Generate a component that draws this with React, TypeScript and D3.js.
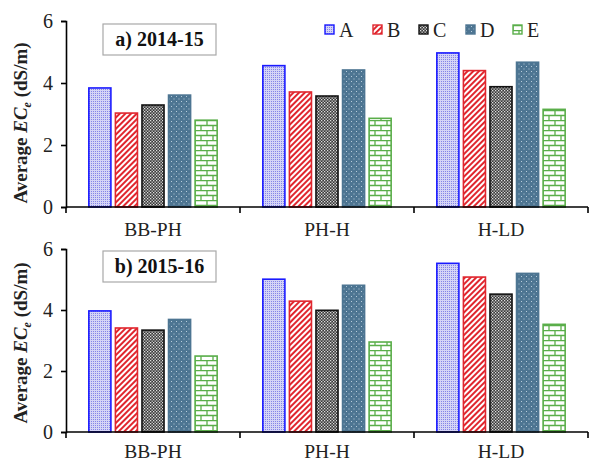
import { useEffect, useRef } from 'react'
import * as d3 from 'd3'

const categories = ['BB-PH', 'PH-H', 'H-LD']
const series = ['A', 'B', 'C', 'D', 'E']
const yTicks = [0, 2, 4, 6]

// values per category, in series order A..E
const values1415 = [
  [3.84, 3.03, 3.29, 3.61, 2.8],
  [4.56, 3.71, 3.58, 4.42, 2.86],
  [4.97, 4.4, 3.88, 4.67, 3.15],
]
const values1516 = [
  [3.97, 3.41, 3.34, 3.69, 2.49],
  [5.01, 4.29, 3.99, 4.81, 2.95],
  [5.53, 5.08, 4.52, 5.2, 3.53],
]

const panels = [
  { label: 'a) 2014-15', data: values1415, top: 21, bottom: 207, labelY: 123, boxX: 103, boxY: 24, catDy: 29 },
  { label: 'b) 2015-16', data: values1516, top: 249, bottom: 432, labelY: 343, boxX: 103, boxY: 251, catDy: 25.5 },
]

const strokes: Record<string, string> = {
  A: '#1a1aff',
  B: '#e0262e',
  C: '#111111',
  D: '#4d7592',
  E: '#5aae4a',
}

const W = 589
const H = 462
const left = 66
const right = 588

function definePatterns(defs: any) {
  // A: lavender with fine blue dots
  const a = defs.append('pattern').attr('id', 'pA').attr('patternUnits', 'userSpaceOnUse')
    .attr('width', 2).attr('height', 2)
  a.append('rect').attr('width', 2).attr('height', 2).attr('fill', '#d4d4f6')
  a.append('rect').attr('x', 1).attr('y', 1).attr('width', 1).attr('height', 1).attr('fill', '#8484e8')

  // B: red diagonal stripes
  const b = defs.append('pattern').attr('id', 'pB').attr('patternUnits', 'userSpaceOnUse')
    .attr('width', 4).attr('height', 4).attr('patternTransform', 'rotate(-45)')
  b.append('rect').attr('width', 4).attr('height', 4).attr('fill', '#ffffff')
  b.append('rect').attr('width', 4).attr('height', 2).attr('fill', '#e0262e')

  // C: dark checker with light dots
  const c = defs.append('pattern').attr('id', 'pC').attr('patternUnits', 'userSpaceOnUse')
    .attr('width', 3).attr('height', 3)
  c.append('rect').attr('width', 3).attr('height', 3).attr('fill', '#3a3a3a')
  c.append('rect').attr('x', 0).attr('y', 0).attr('width', 1.3).attr('height', 1.3).attr('fill', '#e0e0e0')
  c.append('rect').attr('x', 1.5).attr('y', 1.5).attr('width', 1.3).attr('height', 1.3).attr('fill', '#e0e0e0')

  // D: steel blue with light dots
  const d = defs.append('pattern').attr('id', 'pD').attr('patternUnits', 'userSpaceOnUse')
    .attr('width', 5).attr('height', 5)
  d.append('rect').attr('width', 5).attr('height', 5).attr('fill', '#4d7592')
  d.append('rect').attr('x', 1).attr('y', 1).attr('width', 1).attr('height', 1).attr('fill', '#b8cddc')
  d.append('rect').attr('x', 3.5).attr('y', 3.5).attr('width', 1).attr('height', 1).attr('fill', '#b8cddc')

  // E: green brick
  const e = defs.append('pattern').attr('id', 'pE').attr('patternUnits', 'userSpaceOnUse')
    .attr('width', 12).attr('height', 10)
  e.append('rect').attr('width', 12).attr('height', 10).attr('fill', '#ffffff')
  e.append('path')
    .attr('d', 'M0,0.5H12M0,5.5H12M3,0V5M9,5V10')
    .attr('stroke', '#5aae4a').attr('stroke-width', 1.3).attr('fill', 'none')
}

export default function App() {
  const svgRef = useRef<SVGSVGElement>(null)

  useEffect(() => {
    document.body.style.margin = '0'
    if (!svgRef.current) return
    const svg = d3.select(svgRef.current)
    svg.selectAll('*').remove()

    const defs = svg.append('defs')
    definePatterns(defs)

    const font = 'Liberation Serif'

    const x0 = d3.scaleBand().domain(categories).range([left, right]).padding(0)
    const x1 = d3.scaleBand().domain(series).range([0, x0.bandwidth()])
      .paddingInner(0.17).paddingOuter(0.86)

    panels.forEach((p) => {
      const y = d3.scaleLinear().domain([0, 6]).range([p.bottom, p.top])
      const g = svg.append('g')

      // bars
      p.data.forEach((row, ci) => {
        g.selectAll(null)
          .data(row.map((v, si) => ({ v, s: series[si] })))
          .enter().append('rect')
          .attr('x', (d: any) => (x0(categories[ci]) as number) + (x1(d.s) as number))
          .attr('y', (d: any) => y(d.v))
          .attr('width', x1.bandwidth())
          .attr('height', (d: any) => y(0) - y(d.v))
          .attr('fill', (d: any) => `url(#p${d.s})`)
          .attr('stroke', (d: any) => strokes[d.s])
          .attr('stroke-width', 1.6)
      })

      // y axis
      const ya = g.append('g')
        .attr('transform', `translate(${left},0)`)
        .call(d3.axisLeft(y).tickValues(yTicks).tickSize(5).tickPadding(8).tickFormat(d3.format('d')))
      ya.select('.domain').attr('stroke', '#000').attr('stroke-width', 1.6)
      ya.selectAll('.tick line').attr('stroke', '#000').attr('stroke-width', 1.6)
      ya.selectAll('.tick text').style('font-family', font).style('font-size', '20px').attr('fill', '#222')

      // x axis
      const xa = g.append('g').attr('transform', `translate(0,${p.bottom})`)
      xa.append('line').attr('x1', left).attr('x2', right).attr('stroke', '#000').attr('stroke-width', 1.6)
      const bounds = [left, ...categories.map((c) => (x0(c) as number) + x0.bandwidth())]
      xa.selectAll(null).data(bounds).enter().append('line')
        .attr('x1', (d: number) => d).attr('x2', (d: number) => d)
        .attr('y1', 0).attr('y2', 6)
        .attr('stroke', '#000').attr('stroke-width', 1.6)
      xa.selectAll(null).data(categories).enter().append('text')
        .attr('x', (d: string) => (x0(d) as number) + x0.bandwidth() / 2)
        .attr('y', p.catDy)
        .attr('text-anchor', 'middle')
        .style('font-family', font).style('font-size', '19.5px').attr('fill', '#222')
        .text((d: string) => d)

      // y label
      const lab = g.append('text')
        .attr('transform', `translate(27,${p.labelY}) rotate(-90)`)
        .attr('text-anchor', 'middle')
        .style('font-family', font).style('font-size', '19px').style('font-weight', 'bold').attr('fill', '#222')
      lab.append('tspan').text('Average ')
      lab.append('tspan').style('font-style', 'italic').text('EC')
      lab.append('tspan').style('font-style', 'italic').style('font-size', '12px').attr('dy', 4).text('e')
      lab.append('tspan').attr('dy', -4).text(' (dS/m)')

      // title box
      g.append('rect').attr('x', p.boxX).attr('y', p.boxY).attr('width', 113).attr('height', 31)
        .attr('fill', '#fff').attr('stroke', '#a8a8a8').attr('stroke-width', 1.2)
      g.append('text').attr('x', p.boxX + 56.5).attr('y', p.boxY + 22)
        .attr('text-anchor', 'middle')
        .style('font-family', font).style('font-size', '20px').style('font-weight', 'bold').attr('fill', '#111')
        .text(p.label)
    })

    // legend
    const legendX = [325, 373, 419, 466, 513]
    const lg = svg.append('g')
    series.forEach((s, i) => {
      lg.append('rect').attr('x', legendX[i]).attr('y', 25).attr('width', 9).attr('height', 9)
        .attr('fill', `url(#p${s})`).attr('stroke', strokes[s]).attr('stroke-width', 1.4)
      lg.append('text').attr('x', legendX[i] + 14).attr('y', 36.5)
        .style('font-family', font).style('font-size', '20px').attr('fill', '#222')
        .text(s)
    })
  }, [])

  return <svg ref={svgRef} width={W} height={H} style={{ display: 'block', background: '#fff' }}></svg>
}
